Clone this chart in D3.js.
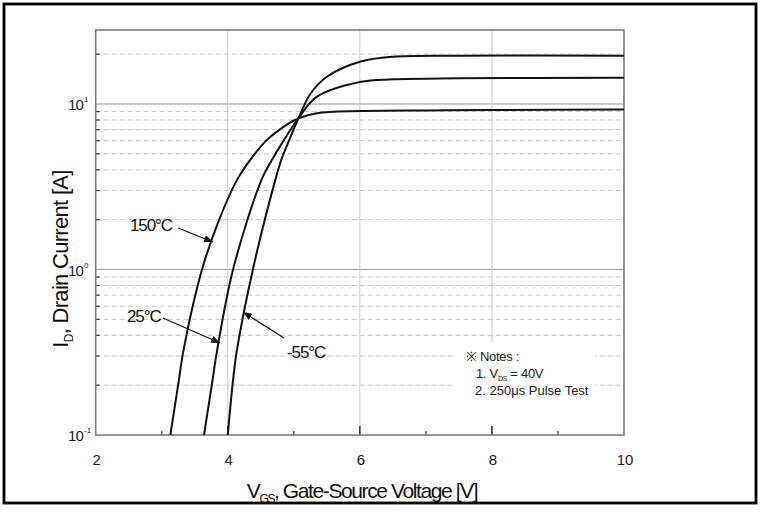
<!DOCTYPE html>
<html>
<head>
<meta charset="utf-8">
<script src="https://cdn.jsdelivr.net/npm/d3@7"></script>
<style>
  html, body { margin: 0; padding: 0; background: #fff; }
  svg { display: block; font-family: "Liberation Sans", Arial, sans-serif; }
</style>
</head>
<body>
<svg id="chart" width="763" height="522"></svg>
<script>
// Transfer characteristics: drain current vs gate-source voltage at three temperatures
const seriesNames = ["150°C", "25°C", "-55°C"];

const vgs150 = [3.13, 3.26, 3.32, 3.61, 3.87, 4.14, 4.34, 4.59, 4.85, 5.07, 5.35, 6.0, 7.0, 8.0, 10.0];
const id150  = [0.1, 0.215, 0.31, 1.0, 2.0, 3.48, 4.6, 6.05, 7.3, 8.2, 8.8, 9.07, 9.15, 9.2, 9.25];

const vgs25 = [3.64, 3.77, 3.83, 4.08, 4.51, 4.67, 4.85, 5.07, 5.35, 6.0, 6.5, 7.5, 10.0];
const id25  = [0.1, 0.215, 0.31, 1.0, 3.48, 4.6, 6.05, 8.2, 11.07, 13.6, 14.1, 14.3, 14.4];

const vgsM55 = [4.0, 4.08, 4.13, 4.38, 4.72, 4.81, 4.93, 5.07, 5.25, 5.5, 6.0, 6.5, 7.5, 10.0];
const idM55  = [0.1, 0.215, 0.31, 1.0, 3.48, 4.6, 6.05, 8.2, 11.5, 14.6, 18.0, 19.3, 19.6, 19.6];

const xMajorTicks = [2, 4, 6, 8, 10];
const xMinorTicks = [3, 5, 7, 9];
const yDecades = [0.1, 1, 10];
const yDecadeExp = ["-1", "0", "1"];
const yMinorTicks = [0.2, 0.3, 0.4, 0.5, 0.6, 0.7, 0.8, 0.9, 2, 3, 4, 5, 6, 7, 8, 9, 20];

const notes = ["※ Notes :", "1. V", "2. 250μs Pulse Test"];

const svg = d3.select("#chart");

// outer frame
svg.append("rect").attr("x", 4).attr("y", 4).attr("width", 752).attr("height", 499)
  .attr("fill", "#fff").attr("stroke", "#000").attr("stroke-width", 2.8);

const plotL = 95.7, plotR = 624, plotT = 30, plotB = 435;
const x = d3.scaleLinear().domain([2, 10]).range([plotL, plotR]);
const y = d3.scaleLog().domain([0.1, 28]).range([plotB, plotT]);

const g = svg.append("g");

// horizontal minor grid (dashed)
g.selectAll("line.hminor").data(yMinorTicks).join("line")
  .attr("x1", plotL).attr("x2", plotR)
  .attr("y1", d => y(d)).attr("y2", d => y(d))
  .attr("stroke", "#c8c8c8").attr("stroke-width", 1).attr("stroke-dasharray", "5,3");

// horizontal decade grid
g.selectAll("line.hmajor").data([1, 10]).join("line")
  .attr("x1", plotL).attr("x2", plotR)
  .attr("y1", d => y(d)).attr("y2", d => y(d))
  .attr("stroke", "#9a9a9a").attr("stroke-width", 1.2);

// vertical grid
g.selectAll("line.vgrid").data([4, 6, 8]).join("line")
  .attr("x1", d => x(d)).attr("x2", d => x(d))
  .attr("y1", plotT).attr("y2", plotB)
  .attr("stroke", "#cccccc").attr("stroke-width", 1);

// notes panel background
g.append("rect").attr("x", 453).attr("y", 343).attr("width", 142).attr("height", 84)
  .attr("fill", "#fff");

// ticks on left axis
g.selectAll("line.ytickMinor").data(yMinorTicks).join("line")
  .attr("x1", plotL).attr("x2", plotL + 4)
  .attr("y1", d => y(d)).attr("y2", d => y(d))
  .attr("stroke", "#333").attr("stroke-width", 1.2);

// ticks on bottom axis
g.selectAll("line.xtickMinor").data(xMinorTicks).join("line")
  .attr("x1", d => x(d)).attr("x2", d => x(d))
  .attr("y1", plotB).attr("y2", plotB - 4)
  .attr("stroke", "#333").attr("stroke-width", 1.2);
g.selectAll("line.xtickMajor").data([4, 6, 8]).join("line")
  .attr("x1", d => x(d)).attr("x2", d => x(d))
  .attr("y1", plotB).attr("y2", plotB - 9)
  .attr("stroke", "#222").attr("stroke-width", 1.4);

// plot frame
g.append("rect").attr("x", plotL).attr("y", plotT)
  .attr("width", plotR - plotL).attr("height", plotB - plotT)
  .attr("fill", "none").attr("stroke", "#7a7a7a").attr("stroke-width", 1.6);

// curves
const line = d3.line()
  .x(d => x(d[0])).y(d => y(d[1]))
  .curve(d3.curveCatmullRom.alpha(0.5));

const series = [
  d3.zip(vgs150, id150),
  d3.zip(vgs25, id25),
  d3.zip(vgsM55, idM55)
];
g.selectAll("path.curve").data(series).join("path")
  .attr("d", line)
  .attr("fill", "none").attr("stroke", "#111").attr("stroke-width", 2);

// y tick labels
const yl = svg.append("g").attr("fill", "#222");
yDecades.forEach((v, i) => {
  yl.append("text").attr("x", 83).attr("y", y(v) + 6)
    .attr("text-anchor", "end").attr("font-size", 15).attr("letter-spacing", -0.8).text("10");
  yl.append("text").attr("x", 84).attr("y", y(v) - 2)
    .attr("font-size", 8).text(yDecadeExp[i]);
});

// x tick labels
svg.append("g").selectAll("text").data(xMajorTicks).join("text")
  .attr("x", d => x(d) + 1).attr("y", 465)
  .attr("text-anchor", "middle").attr("font-size", 15).attr("fill", "#222")
  .text(d => d);

// axis titles
const xt = svg.append("text").attr("x", 362).attr("y", 498)
  .attr("text-anchor", "middle").attr("font-size", 21).attr("letter-spacing", -1.4).attr("fill", "#111");
xt.append("tspan").text("V");
xt.append("tspan").attr("font-size", 12).attr("dy", 5).text("GS");
xt.append("tspan").attr("dy", -5).text(", Gate-Source Voltage [V]");

const yt = svg.append("text").attr("transform", "translate(68,259) rotate(-90)")
  .attr("text-anchor", "middle").attr("font-size", 22).attr("letter-spacing", -0.7).attr("fill", "#111");
yt.append("tspan").text("I");
yt.append("tspan").attr("font-size", 12).attr("dy", 5).text("D");
yt.append("tspan").attr("dy", -5).text(", Drain Current [A]");

// curve labels with arrows
const defs = svg.append("defs");
defs.append("marker").attr("id", "arrow").attr("viewBox", "0 0 10 10")
  .attr("refX", 10).attr("refY", 5).attr("markerWidth", 9).attr("markerHeight", 9)
  .attr("markerUnits", "userSpaceOnUse").attr("orient", "auto")
  .append("path").attr("d", "M0,1 L10,5 L0,9 Z").attr("fill", "#111");

const labelX = [130, 127, 287];
const labelY = [231, 322, 358];
const arrowFrom = [[178, 228], [163, 318], [284, 338]];
const arrowTo = [[213, 242], [220, 343], [243, 312]];

seriesNames.forEach((name, i) => {
  svg.append("text").attr("x", labelX[i]).attr("y", labelY[i])
    .attr("font-size", 17).attr("letter-spacing", -1.1).attr("fill", "#111").text(name);
  svg.append("line")
    .attr("x1", arrowFrom[i][0]).attr("y1", arrowFrom[i][1])
    .attr("x2", arrowTo[i][0]).attr("y2", arrowTo[i][1])
    .attr("stroke", "#111").attr("stroke-width", 1.2)
    .attr("marker-end", "url(#arrow)");
});

// notes
const nt = svg.append("g").attr("font-size", 13).attr("letter-spacing", -0.3).attr("fill", "#222");
nt.append("text").attr("x", 466).attr("y", 361).text(notes[0]);
const n1 = nt.append("text").attr("x", 476).attr("y", 378);
n1.append("tspan").text(notes[1]);
n1.append("tspan").attr("font-size", 7).attr("dy", 2.5).text("DS");
n1.append("tspan").attr("dy", -2.5).text(" = 40V");
nt.append("text").attr("x", 475).attr("y", 395).attr("letter-spacing", 0).text(notes[2]);
</script>
</body>
</html>
